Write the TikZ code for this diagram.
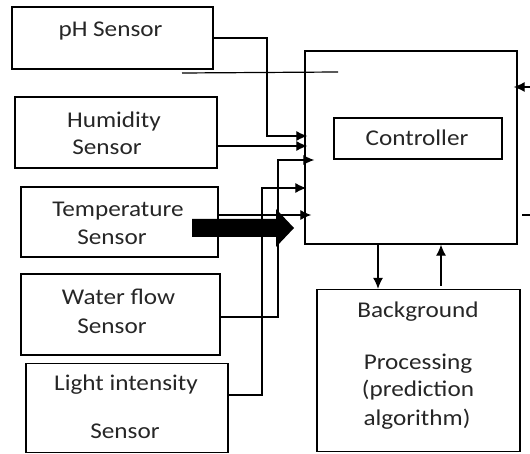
\documentclass[tikz,border=0pt]{standalone}
\usepackage{fontspec}
\setmainfont{Carlito}[FakeStretch=1.12]
\usetikzlibrary{arrows.meta,calc}
\begin{document}
\begin{tikzpicture}[x=1pt,y=-1pt,
  box/.style={draw,line width=1.3pt,inner sep=0pt},
  lbl/.style={anchor=base,inner sep=0pt,text=black!85,font=\fontsize{22.5}{26}\selectfont},
  conn/.style={line width=1.2pt},
  arr/.style={conn,-{Latex[length=11pt,width=10pt]}}]
\useasboundingbox (0,0) rectangle (530,454);
% boxes
\node[box,minimum width=201pt,minimum height=62pt] (ph) at (112.5,38) {};
\node[box,minimum width=202pt,minimum height=71pt] (hum) at (116,132.5) {};
\node[box,minimum width=197pt,minimum height=70pt] (temp) at (119.5,222) {};
\node[box,minimum width=199pt,minimum height=81pt] (water) at (120.5,314.5) {};
\node[box,minimum width=202pt,minimum height=89pt] (light) at (127,408) {};
\node[box,minimum width=212pt,minimum height=193pt] (ctrl) at (411,147.5) {};
\node[box,minimum width=168pt,minimum height=41pt] (inner) at (418,138.5) {};
\node[box,minimum width=203pt,minimum height=162pt] (bg) at (418.5,370.5) {};
% labels
\node[lbl] (tph) at (110.5,37) {pH Sensor};
\node[lbl] (thum1) at (114,128) {Humidity};
\node[lbl] (thum2) at (107,155) {Sensor};
\node[lbl] (ttemp1) at (118,217) {Temperature};
\node[lbl] (ttemp2) at (112,245) {Sensor};
\node[lbl] (twat1) at (118.5,305) {Water flow};
\node[lbl] (twat2) at (112,334) {Sensor};
\node[lbl] (tlig1) at (126,390) {Light intensity};
\node[lbl] (tlig2) at (125,438) {Sensor};
\node[lbl] (tctrl) at (417,146) {Controller};
\node[lbl] (tbg1) at (418,317) {Background};
\node[lbl] (tbg2) at (418,369) {Processing};
\node[lbl] (tbg3) at (418,396) {(prediction};
\node[lbl] (tbg4) at (417,425) {algorithm)};
% free ends
\coordinate (lineA) at (182,73);
\coordinate (lineB) at (338,72);
\coordinate (rin) at (530,87);
\coordinate (rout) at (530,215);
% connectors
\draw[conn] (lineA) -- (lineB);
\draw[arr] (ph.east) -- (267,38) -- (267,136) -- ($(ctrl.west|-0,136)+(3,0)$);
\draw[arr] (hum.east|-0,146) -- ($(ctrl.west|-0,146)+(3,0)$);
\draw[arr] (water.east|-0,317) -- (278,317) -- (278,160) -- ($(ctrl.west|-0,160)+(10,0)$);
\draw[arr] (light.east|-0,395) -- (262,395) -- (262,188) -- ($(ctrl.west|-0,188)+(2,0)$);
\draw[arr] (temp.east|-0,215) -- ($(ctrl.west|-0,215)+(7,0)$);
\draw[arr] (rin) -- ($(ctrl.east|-0,87)+(-4,0)$);
\draw[conn] (rout) -- ($(ctrl.east|-0,215)+(4,0)$);
\draw[arr] (ctrl.south-|378,0) -- (bg.north-|378,0);
\draw[arr] ($(bg.north-|441,0)+(0,-3)$) -- (ctrl.south-|441,0);
% big arrow
\fill (192,219) -- (276,219) -- (276,209) -- (294,228) -- (276,247) -- (276,237) -- (192,237) -- cycle;
\end{tikzpicture}
\end{document}
